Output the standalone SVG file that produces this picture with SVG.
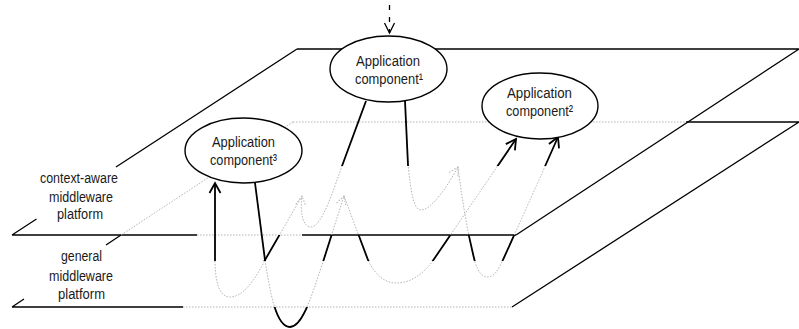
<svg xmlns="http://www.w3.org/2000/svg" width="799" height="329" viewBox="0 0 799 329">
  <style>
    .edge{fill:none;stroke:#000;stroke-width:1.3}
    .hidden{fill:none;stroke:#b4b4b4;stroke-width:1;stroke-dasharray:1.5 1.5}
    .flow{fill:none;stroke:#000;stroke-width:1.8}
    .node ellipse{fill:#fff;stroke:#000;stroke-width:1.4}
    text{font-family:"Liberation Sans Narrow","Arial Narrow","Liberation Sans",Arial,sans-serif;font-size:15.5px;fill:#1a1a1a;text-anchor:middle}
  </style>
  <defs>
    <!-- open arrowhead for visible flows -->
    <marker id="tip" markerUnits="userSpaceOnUse" viewBox="-12 -7 14 14" markerWidth="14" markerHeight="14" refX="0" refY="0" orient="auto">
      <path d="M-10,-5.5 L0,0 L-10,5.5" fill="none" stroke="#000" stroke-width="1.8"/>
    </marker>
    <marker id="tip-thin" markerUnits="userSpaceOnUse" viewBox="-12 -7 14 14" markerWidth="14" markerHeight="14" refX="0" refY="0" orient="auto">
      <path d="M-10,-5 L0,0 L-10,5" fill="none" stroke="#000" stroke-width="1.3"/>
    </marker>
    <!-- dotted arrowhead for flows hidden behind a platform -->
    <marker id="tip-hidden" markerUnits="userSpaceOnUse" viewBox="-12 -7 14 14" markerWidth="14" markerHeight="14" refX="0" refY="0" orient="auto">
      <path d="M-9,-5 L0,0 L-9,5" fill="none" stroke="#b4b4b4" stroke-width="1" stroke-dasharray="1.5 1.5"/>
    </marker>
    <!-- regions where flows are in front of the platforms -->
    <clipPath id="front">
      <rect x="0" y="0" width="799" height="166"/>
      <rect x="0" y="235" width="799" height="26"/>
      <rect x="0" y="307" width="799" height="22"/>
      <rect x="0" y="150" width="270" height="111"/>
    </clipPath>
    <path id="fA" d="M366,101 L342,166 C334,188 322,227 311,227 C302,227 300,210 302,196"/>
    <path id="fF" d="M302,196 L265,260 C255,280 243,297 230,297 C218,297 215,278 215,260 L215,183"/>
    <path id="fE" d="M255,183 L265,260 C270,292 276,327 290,327 C303,327 312,294 323,262 L344,196"/>
    <path id="fB" d="M344,196 L368,260 C375,275 385,283 396,283 C410,283 422,275 432,262 L516,139"/>
    <path id="fC" d="M405,101 L408,165 C411,190 413,210 421,210 C432,210 448,185 458,167"/>
    <path id="fD" d="M458,167 C462,200 468,235 475,262 C478,272 482,277 488,277 C494,277 498,270 502,262 Q532,196 558,137"/>
  </defs>

  <!-- context-aware middleware platform -->
  <g id="platform-context-aware">
    <path class="edge" d="M297,49 L799,49 M799,49 L516,235 M297,49 L116,167 M36.5,219 L12,235 M12,235 L197,235 M302,235 L516,235"/>
    <path class="hidden" d="M197,235 L302,235"/>
    <text x="79" y="183" textLength="78" lengthAdjust="spacingAndGlyphs">context-aware</text>
    <text x="81" y="201.5" textLength="64" lengthAdjust="spacingAndGlyphs">middleware</text>
    <text x="80" y="219" textLength="46" lengthAdjust="spacingAndGlyphs">platform</text>
  </g>

  <!-- general middleware platform -->
  <g id="platform-general">
    <path class="edge" d="M686,122 L799,122 M799,122 L512,307 M121,235 L106,245 M24,299 L12,307 M12,307 L183,307"/>
    <path class="hidden" d="M293,122 L686,122 M293,122 L121,235 M183,307 L512,307"/>
    <text x="81.5" y="260.5" textLength="41" lengthAdjust="spacingAndGlyphs">general</text>
    <text x="81" y="280.5" textLength="64" lengthAdjust="spacingAndGlyphs">middleware</text>
    <text x="81.5" y="298.5" textLength="47" lengthAdjust="spacingAndGlyphs">platform</text>
  </g>

  <!-- message flows -->
  <g id="connectors">
    <path d="M389.5,5 L389.5,33" fill="none" stroke="#000" stroke-width="1.3" stroke-dasharray="5 7" marker-end="url(#tip-thin)"/>
    <g class="hidden" marker-end="url(#tip-hidden)">
      <use href="#fA"/>
      <use href="#fF"/>
      <use href="#fE"/>
      <use href="#fB"/>
      <use href="#fC"/>
      <use href="#fD"/>
    </g>
    <g class="flow" clip-path="url(#front)">
      <use href="#fA"/>
      <use href="#fF" marker-end="url(#tip)"/>
      <use href="#fE"/>
      <use href="#fB" marker-end="url(#tip)"/>
      <use href="#fC"/>
      <use href="#fD" marker-end="url(#tip)"/>
    </g>
  </g>

  <g id="node-app1" class="node">
    <ellipse cx="388.5" cy="69" rx="58.5" ry="33"/>
    <text x="388" y="66" textLength="64" lengthAdjust="spacingAndGlyphs">Application</text>
    <text x="389" y="84" textLength="68" lengthAdjust="spacingAndGlyphs">component¹</text>
  </g>
  <g id="node-app2" class="node">
    <ellipse cx="540" cy="106" rx="58" ry="33"/>
    <text x="539.5" y="98" textLength="65" lengthAdjust="spacingAndGlyphs">Application</text>
    <text x="539.5" y="116" textLength="67" lengthAdjust="spacingAndGlyphs">component²</text>
  </g>
  <g id="node-app3" class="node">
    <ellipse cx="243.5" cy="150.5" rx="58.5" ry="32.5"/>
    <text x="243.5" y="147" textLength="63" lengthAdjust="spacingAndGlyphs">Application</text>
    <text x="243.5" y="165" textLength="67" lengthAdjust="spacingAndGlyphs">component³</text>
  </g>
</svg>
